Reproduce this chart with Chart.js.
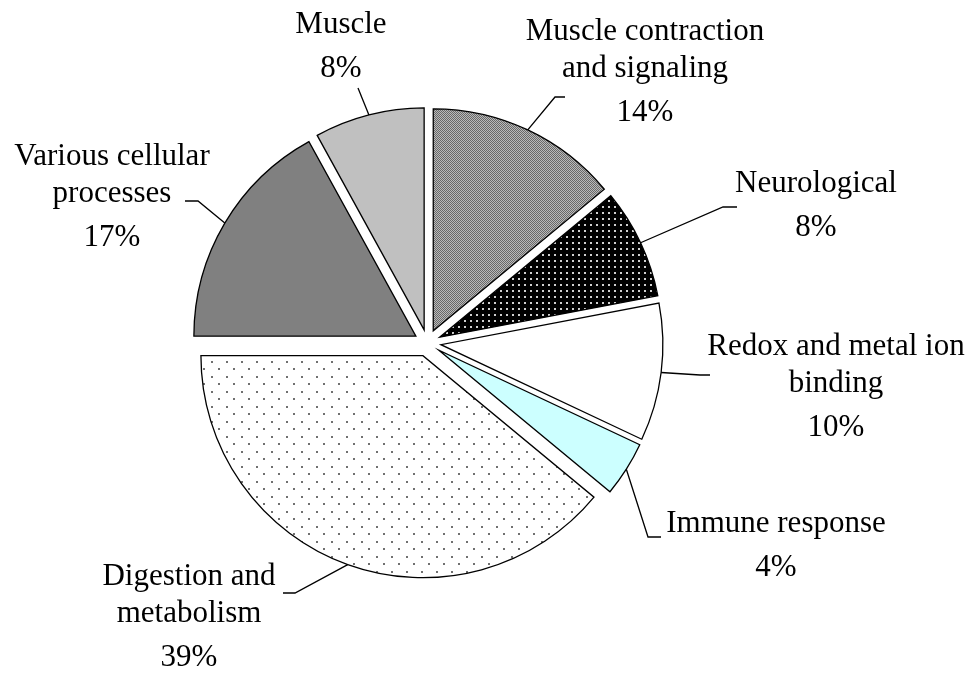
<!DOCTYPE html>
<html><head><meta charset="utf-8">
<script src="https://cdn.jsdelivr.net/npm/chart.js@4/dist/chart.umd.min.js"></script>
<style>html,body{margin:0;padding:0;background:#fff;} #wrap{width:974px;height:675px;position:relative;}</style>
</head><body><div id="wrap"><canvas id="c"></canvas></div>
<script>
// ---- data ----
const categories = [
  ["Muscle contraction", "and signaling"],
  ["Neurological"],
  ["Redox and metal ion", "binding"],
  ["Immune response"],
  ["Digestion and", "metabolism"],
  ["Various cellular", "processes"],
  ["Muscle"]
];
const shares = [14, 8, 10, 4, 39, 17, 8];

// ---- layout / style ----
const EXPLODE = 13.5;
const RADIUS = 222;
const FONT = '31px "Liberation Serif", "Times New Roman", serif';
const LINE_GAP = 37, PCT_GAP = 44;
// label anchor (text centre x, first baseline y) relative to pie centre
const labelAnchor = [[217.5,-303],[388.5,-151],[408.5,12],[348.5,189],[-238.5,242],[-315.5,-178],[-86.5,-310]];
// leader line elbow and end, relative to pie centre
const leaderPath = [[127.5,-246,137.5,-246],[295.5,-136,309.5,-136],[272.5,32,282.5,32],[220.5,194,233.5,194],[-132.5,250,-144.5,250],[-229.5,-142,-242.5,-142],[-69.5,-255,-69.5,-255]];

function makePattern(w, h, draw) {
  const c = document.createElement('canvas'); c.width = w; c.height = h;
  const g = c.getContext('2d'); draw(g);
  return g.createPattern(c, 'repeat');
}
const patCheck = makePattern(2, 2, g => { g.fillStyle = '#bababa'; g.fillRect(0,0,2,2); g.fillStyle = '#686868'; g.fillRect(0,0,1,1); g.fillRect(1,1,1,1); });
const patDark = makePattern(6, 6, g => { g.fillStyle = '#000'; g.fillRect(0,0,6,6); g.fillStyle = '#d0d0d0'; g.fillRect(2,2,2,2); });
const patDots = makePattern(15, 15, g => { g.fillStyle = '#fff'; g.fillRect(0,0,15,15); g.fillStyle = '#707070'; g.fillRect(1,1,2,2); g.fillRect(8,8,2,2); });
const fills = [patCheck, patDark, '#ffffff', '#ccffff', patDots, '#808080', '#c0c0c0'];

const explodePlugin = {
  id: 'explode',
  afterDatasetUpdate(chart, args) {
    const meta = chart.getDatasetMeta(args.index);
    meta.data.forEach(arc => {
      const mid = (arc.startAngle + arc.endAngle) / 2;
      arc.x += Math.cos(mid) * EXPLODE;
      arc.y += Math.sin(mid) * EXPLODE;
    });
  }
};

const labelPlugin = {
  id: 'sliceLabels',
  afterDatasetsDraw(chart) {
    const {ctx, chartArea} = chart;
    const cx = (chartArea.left + chartArea.right) / 2, cy = (chartArea.top + chartArea.bottom) / 2;
    const meta = chart.getDatasetMeta(0);
    const total = shares.reduce((a, b) => a + b, 0);
    ctx.save();
    ctx.strokeStyle = '#000'; ctx.lineWidth = 1.3; ctx.lineJoin = 'miter';
    ctx.fillStyle = '#000'; ctx.font = FONT; ctx.textAlign = 'center'; ctx.textBaseline = 'alphabetic';
    meta.data.forEach((arc, i) => {
      const mid = (arc.startAngle + arc.endAngle) / 2;
      const sx = arc.x + Math.cos(mid) * arc.outerRadius, sy = arc.y + Math.sin(mid) * arc.outerRadius;
      const p = leaderPath[i];
      ctx.beginPath(); ctx.moveTo(sx, sy); ctx.lineTo(cx + p[0], cy + p[1]); ctx.lineTo(cx + p[2], cy + p[3]); ctx.stroke();
      const a = labelAnchor[i];
      let y = cy + a[1];
      categories[i].forEach((t, k) => { if (k > 0) y += LINE_GAP; ctx.fillText(t, cx + a[0], y); });
      y += PCT_GAP;
      ctx.fillText(Math.round(shares[i] / total * 100) + '%', cx + a[0], y);
    });
    ctx.restore();
  }
};

new Chart(document.getElementById('c'), {
  type: 'pie',
  data: {
    labels: categories,
    datasets: [{
      data: shares,
      backgroundColor: fills,
      borderColor: '#000',
      borderWidth: 1.3,
      borderJoinStyle: 'miter',
      radius: RADIUS
    }]
  },
  options: {
    responsive: true,
    maintainAspectRatio: false,
    animation: false,
    events: [],
    layout: {padding: {left: 0, right: 119, top: 11, bottom: 0}},
    plugins: {legend: {display: false}, tooltip: {enabled: false}}
  },
  plugins: [explodePlugin, labelPlugin]
});
</script>
</body></html>
